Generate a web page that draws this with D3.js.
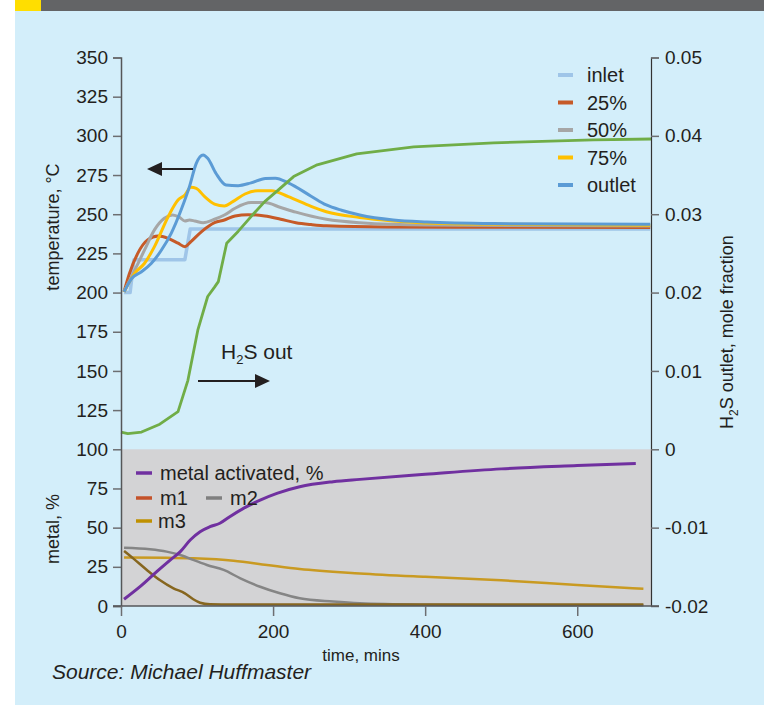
<!DOCTYPE html>
<html><head><meta charset="utf-8">
<script src="https://cdn.jsdelivr.net/npm/d3@7"></script>
<style>body{margin:0;background:#fff}svg{display:block;font-family:"Liberation Sans",Arial,sans-serif}</style>
</head><body>
<svg id="c" width="770" height="705"></svg>
<script>
// ---------- data ----------
const inletT = [4, 12, 17, 84, 91, 696];
const inletV = [200, 200, 221, 221, 240.5, 240.5];

const p25T = [4, 11, 22, 35, 49, 62, 75, 84, 92, 106, 123, 136, 150, 167, 189, 210, 230, 250, 270, 350, 696];
const p25V = [200.5, 212, 225, 233.6, 236.1, 234.6, 231.5, 229.3, 232.5, 238.9, 244.6, 246.3, 248.9, 249.7, 248.9, 246.8, 244.6, 243.4, 242.6, 241.9, 241.5];

const p50T = [4, 16, 31, 44, 57, 68, 77, 84, 90, 97, 108, 123, 136, 150, 171, 189, 210, 230, 270, 314, 402, 696];
const p50V = [200.5, 212.3, 227.2, 240, 247.4, 249.5, 248, 245.7, 246.3, 245.7, 244.6, 246.8, 249.5, 253.8, 257.4, 257.4, 254.3, 251.3, 246.8, 244.6, 243.1, 242.5];

const p75T = [4, 18, 31, 44, 62, 75, 84, 92, 99, 110, 123, 136, 147, 163, 180, 198, 220, 250, 270, 314, 358, 446, 696];
const p75V = [200.5, 212.3, 218.7, 229.3, 248.4, 259, 262.3, 267.2, 266.5, 261.2, 256.5, 255.3, 258, 262.9, 265, 265, 261.2, 255, 251.6, 247.9, 245.7, 243.8, 243];

const outT = [4, 14, 27, 40, 53, 66, 79, 90, 99, 108, 114, 125, 138, 154, 171, 190, 203, 220, 250, 270, 290, 314, 358, 402, 490, 600, 696];
const outV = [200.5, 209, 213.3, 218.7, 227, 237.8, 252.7, 267.6, 282.5, 287.8, 285.7, 276, 268.7, 268.2, 270, 272.8, 273, 270, 261.5, 255.9, 252.5, 249.5, 246.3, 245, 244, 243.7, 243.6];

// H2S outlet (right axis, mole fraction)
const h2sT = [0, 9, 27, 51, 75, 88, 101, 114, 123, 128, 139, 154, 171, 189, 207, 227, 258, 310, 385, 490, 621, 697];
const h2sV = [0.0022, 0.0020, 0.0022, 0.0032, 0.0048, 0.0088, 0.0152, 0.0195, 0.0207, 0.0214, 0.0263, 0.0278, 0.0297, 0.0316, 0.0331, 0.0348, 0.0363, 0.0377, 0.0386, 0.0391, 0.0395, 0.0396];

// metal panel (%)
const actT = [4, 25, 47, 65, 78, 91, 104, 117, 130, 143, 161, 183, 205, 235, 279, 314, 400, 500, 600, 677];
const actV = [4.3, 12.3, 21.9, 29.4, 34.7, 42.1, 47.4, 50.6, 52.8, 57, 62.3, 67.6, 71.9, 76.1, 79.3, 80.8, 84, 87.5, 89.6, 91];

const m1T = [4, 16, 34, 51, 69, 84, 95, 104, 117, 140, 687];
const m1V = [35.1, 30.4, 23, 16.6, 11.3, 8.1, 4.3, 2.1, 1.1, 1.0, 1.0];

const m2T = [4, 38, 60, 82, 95, 113, 135, 157, 183, 209, 235, 279, 314, 400, 500, 687];
const m2V = [37.2, 36.2, 34.7, 31.9, 29.4, 26.2, 23, 17.7, 12.3, 8.1, 4.9, 2.8, 1.7, 0.8, 0.5, 0.4];

const m3T = [4, 60, 95, 148, 192, 235, 314, 400, 500, 600, 687];
const m3V = [31, 30.8, 30.4, 28.9, 26.2, 23.6, 20.8, 18.6, 16.4, 13.4, 11];

const leftTicks = [0, 25, 50, 75, 100, 125, 150, 175, 200, 225, 250, 275, 300, 325, 350];
const rightTicks = [-0.02, -0.01, 0, 0.01, 0.02, 0.03, 0.04, 0.05];
const rightTickLabels = ["-0.02", "-0.01", "0", "0.01", "0.02", "0.03", "0.04", "0.05"];
const xTicks = [0, 200, 400, 600];

const tempNames = ["inlet", "25%", "50%", "75%", "outlet"];
const tempColors = ["#9fc5e8", "#c65a28", "#a6a6a6", "#ffc000", "#5b9bd5"];
const metalNames = ["metal activated, %", "m1", "m2", "m3"];
const metalSwatch = ["#7030a0", "#c4522a", "#7f7f7f", "#bf9000"];
const metalLine = ["#7030a0", "#86661f", "#858585", "#c99a22"];

// ---------- drawing ----------
const svg = d3.select("#c");
const x = d3.scaleLinear([0, 697], [121, 651]);
const yL = d3.scaleLinear([0, 350], [606, 57.5]);
const yR = d3.scaleLinear([-0.02, 0.05], [606, 57.5]);
const ink = "#231f20";

svg.append("rect").attr("x", 15).attr("y", 0).attr("width", 749).attr("height", 705).attr("fill", "#d3eefa");
svg.append("rect").attr("x", 15).attr("y", 0).attr("width", 26).attr("height", 11).attr("fill", "#ffde00");
svg.append("rect").attr("x", 41).attr("y", 0).attr("width", 723).attr("height", 11).attr("fill", "#636466");

// metal panel
svg.append("rect").attr("x", x(0)).attr("y", yL(100)).attr("width", x(697) - x(0)).attr("height", yL(0) - yL(100)).attr("fill", "#d3d3d5");

const z = (T, V) => T.map((t, i) => [t, V[i]]);
const lineL = d3.line().x(d => x(d[0])).y(d => yL(d[1])).curve(d3.curveMonotoneX);
const lineLin = d3.line().x(d => x(d[0])).y(d => yL(d[1]));
const lineR = d3.line().x(d => x(d[0])).y(d => yR(d[1]));

// bottom panel lines
const metalData = [z(actT, actV), z(m1T, m1V), z(m2T, m2V), z(m3T, m3V)];
[3, 2, 1, 0].forEach(i => {
  svg.append("path").attr("d", lineL(metalData[i])).attr("fill", "none")
    .attr("stroke", metalLine[i]).attr("stroke-width", i === 0 ? 3 : 2.5).attr("stroke-linejoin", "round");
});

// temperature lines
const tempData = [z(inletT, inletV), z(p25T, p25V), z(p50T, p50V), z(p75T, p75V), z(outT, outV)];
tempData.forEach((d, i) => {
  svg.append("path").attr("d", (i === 0 ? lineLin : lineL)(d)).attr("fill", "none")
    .attr("stroke", tempColors[i]).attr("stroke-width", i === 0 ? 3.5 : 3).attr("stroke-linejoin", "round");
});
svg.append("path").attr("d", lineR(z(h2sT, h2sV))).attr("fill", "none")
  .attr("stroke", "#70ad47").attr("stroke-width", 2.8).attr("stroke-linejoin", "round");

// axes
const gl = svg.append("g").attr("transform", `translate(${x(0)},0)`)
  .call(d3.axisLeft(yL).tickValues(leftTicks).tickSize(8).tickPadding(5).tickFormat(d3.format("d")));
const gr = svg.append("g").attr("transform", `translate(${x(697)},0)`)
  .call(d3.axisRight(yR).tickValues(rightTicks).tickSize(8).tickPadding(6).tickFormat((d, i) => rightTickLabels[i]));
const gb = svg.append("g").attr("transform", `translate(0,${yL(0)})`)
  .call(d3.axisBottom(x).tickValues(xTicks).tickSize(10).tickPadding(9).tickFormat(d3.format("d")));
[gl, gr, gb].forEach(g => {
  g.select(".domain").attr("stroke", "#555658").attr("stroke-width", 1.5);
  g.selectAll(".tick line").attr("stroke", "#6d6e71").attr("stroke-width", 1.5);
  g.selectAll(".tick text").attr("fill", ink).style("font-size", "19px").style("font-family", '"Liberation Sans",Arial,sans-serif');
});
gr.select(".domain").attr("stroke", "#333").attr("stroke-width", 1.2);
gb.select(".domain").attr("d", `M${x(0) - 8},0H${x(697) + 8}`);

// axis titles
svg.append("text").attr("transform", "translate(59,227) rotate(-90)").attr("text-anchor", "middle")
  .attr("fill", ink).style("font-size", "18px").text("temperature, °C");
svg.append("text").attr("transform", "translate(59,529) rotate(-90)").attr("text-anchor", "middle")
  .attr("fill", ink).style("font-size", "18px").text("metal, %");
const rt = svg.append("text").attr("transform", "translate(733,332) rotate(-90)").attr("text-anchor", "middle")
  .attr("fill", ink).style("font-size", "18px");
rt.append("tspan").text("H");
rt.append("tspan").attr("dy", 5).style("font-size", "12px").text("2");
rt.append("tspan").attr("dy", -5).text("S outlet, mole fraction");
svg.append("text").attr("x", 361).attr("y", 661).attr("text-anchor", "middle").attr("fill", ink)
  .style("font-size", "17px").text("time, mins");
svg.append("text").attr("x", 52).attr("y", 679).attr("fill", ink).style("font-style", "italic")
  .style("font-size", "21px").text("Source: Michael Huffmaster");

// legends
const lg = svg.append("g");
tempNames.forEach((n, i) => {
  const yy = 75 + i * 27.5;
  lg.append("line").attr("x1", 558).attr("x2", 573).attr("y1", yy).attr("y2", yy)
    .attr("stroke", tempColors[i]).attr("stroke-width", 4);
  lg.append("text").attr("x", 587).attr("y", yy + 7).attr("fill", ink).style("font-size", "20px").text(n);
});
const mpos = [[136, 473], [136, 498], [206, 498], [136, 521]];
metalNames.forEach((n, i) => {
  const [xx, yy] = mpos[i];
  lg.append("line").attr("x1", xx).attr("x2", xx + 16).attr("y1", yy).attr("y2", yy)
    .attr("stroke", metalSwatch[i]).attr("stroke-width", 3.5);
  lg.append("text").attr("x", xx + (i === 3 ? 22 : 24)).attr("y", yy + 7).attr("fill", ink).style("font-size", "20px").text(n);
});

// arrows
function arrow(x1, x2, yy) {
  const dir = Math.sign(x2 - x1);
  svg.append("line").attr("x1", x1).attr("x2", x2 - dir * 12).attr("y1", yy).attr("y2", yy)
    .attr("stroke", "#231f20").attr("stroke-width", 2);
  svg.append("path").attr("d", `M${x2},${yy}L${x2 - dir * 15},${yy - 7}L${x2 - dir * 15},${yy + 7}Z`).attr("fill", "#231f20");
}
arrow(193, 147, 169);
arrow(198, 270, 381);
const ht = svg.append("text").attr("x", 221).attr("y", 359).attr("fill", ink).style("font-size", "21px");
ht.append("tspan").text("H");
ht.append("tspan").attr("dy", 5).style("font-size", "13px").text("2");
ht.append("tspan").attr("dy", -5).text("S out");
</script>
</body></html>
